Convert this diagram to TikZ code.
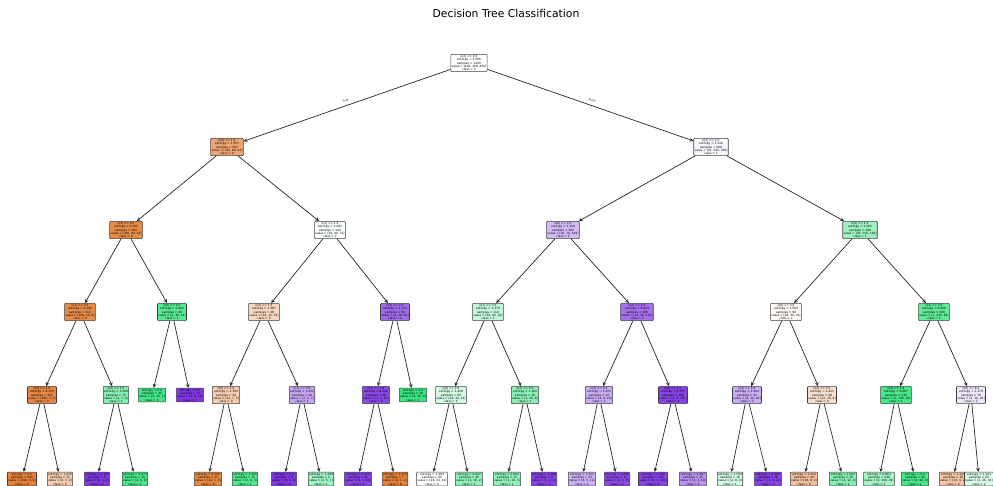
\documentclass[tikz,border=0pt]{standalone}
\usepackage{fontspec}
\setmainfont{DejaVu Sans}
\usepackage{tikz}
\usetikzlibrary{positioning}
\usetikzlibrary{shapes.geometric, arrows}
\definecolor{skO}{RGB}{229,129,57}
\definecolor{skG}{RGB}{57,229,129}
\definecolor{skP}{RGB}{129,57,229}
\tikzstyle{arrow} = [->,>=stealth,black!85,line width=0.7pt]
\tikzstyle{box} = [draw=black!75,rounded corners=0.8pt,align=center,inner sep=0.8pt,line width=0.6pt,font=\fontsize{2.9}{3.35}\selectfont]

\begin{document}
\begin{tikzpicture}[x=1pt,y=-1pt]
\useasboundingbox (0,0) rectangle (993,486);

%Title
\node (title) at (506,13) {\fontsize{10.8}{13}\selectfont Decision Tree Classification};

%Root and level 1
\node[box,fill=white] (n0) at (469,63) {x[2] <= 0.5\\entropy = 1.585\\samples = 1200\\value = [400, 400, 400]\\class = 0};
\node[box,fill=skO!72] (n1a) at (227,147) {x[0] <= 1.5\\entropy = 1.357\\samples = 502\\value = [330, 80, 92]\\class = 0};
\node[box,fill=skP!4] (n1b) at (711,147) {x[1] <= 2.5\\entropy = 1.349\\samples = 698\\value = [70, 320, 308]\\class = 1};

%Level 2
\node[box,fill=skO!92] (n2a) at (126,230) {x[3] <= 0.5\\entropy = 0.783\\samples = 360\\value = [300, 40, 20]\\class = 0};
\node[box,fill=skG!3] (n2b) at (330,230) {x[1] <= 1.5\\entropy = 1.491\\samples = 142\\value = [30, 40, 72]\\class = 2};
\node[box,fill=skP!35] (n2c) at (563,230) {x[0] <= 2.5\\entropy = 1.330\\samples = 300\\value = [40, 70, 190]\\class = 2};
\node[box,fill=skG!50] (n2d) at (860,230) {x[3] <= 1.5\\entropy = 1.265\\samples = 398\\value = [30, 250, 118]\\class = 1};

%Level 3
\node[box,fill=skO!92] (n3a) at (80,312) {x[1] <= 0.5\\entropy = 0.390\\samples = 316\\value = [300, 10, 6]\\class = 0};
\node[box,fill=skG!85] (n3b) at (172,312) {x[0] <= 0.5\\entropy = 0.902\\samples = 44\\value = [0, 30, 14]\\class = 1};
\node[box,fill=skO!32] (n3c) at (264,312) {x[2] <= 1.5\\entropy = 1.387\\samples = 48\\value = [26, 12, 10]\\class = 0};
\node[box,fill=skP!75] (n3d) at (395,312) {x[3] <= 2.5\\entropy = 1.174\\samples = 94\\value = [4, 28, 62]\\class = 2};
\node[box,fill=skG!30] (n3e) at (488,312) {x[1] <= 3.5\\entropy = 1.379\\samples = 110\\value = [30, 60, 20]\\class = 1};
\node[box,fill=skP!72] (n3f) at (637,312) {x[2] <= 2.5\\entropy = 0.623\\samples = 190\\value = [10, 10, 170]\\class = 2};
\node[box,fill=skO!4] (n3g) at (786,312) {x[0] <= 3.5\\entropy = 1.583\\samples = 90\\value = [28, 30, 32]\\class = 2};
\node[box,fill=skG!80] (n3h) at (934,312) {x[2] <= 3.5\\entropy = 0.896\\samples = 308\\value = [2, 220, 86]\\class = 1};

%Level 4
\node[box,fill=skO!95] (n4a) at (42,395) {x[3] <= 1.5\\entropy = 0.135\\samples = 301\\value = [296, 3, 2]\\class = 0};
\node[box,fill=skG!60] (n4b) at (116,395) {x[2] <= 1.5\\entropy = 1.566\\samples = 15\\value = [4, 7, 4]\\class = 1};
\node[box,fill=skG!95] (n4c) at (152,395) {entropy = 0.0\\samples = 30\\value = [0, 30, 0]\\class = 1};
\node[box,fill=skP] (n4d) at (190,395) {entropy = 0.0\\samples = 14\\value = [0, 0, 14]\\class = 2};
\node[box,fill=skO!40] (n4e) at (226,395) {x[0] <= 2.5\\entropy = 1.159\\samples = 34\\value = [24, 7, 3]\\class = 0};
\node[box,fill=skP!45] (n4f) at (302,395) {x[3] <= 3.5\\entropy = 1.435\\samples = 14\\value = [2, 5, 7]\\class = 2};
\node[box,fill=skP!92] (n4g) at (376,395) {x[1] <= 4.5\\entropy = 0.540\\samples = 68\\value = [4, 2, 62]\\class = 2};
\node[box,fill=skG] (n4h) at (413,395) {entropy = 0.0\\samples = 26\\value = [0, 26, 0]\\class = 1};
\node[box,fill=skG!22] (n4i) at (451,395) {x[0] <= 4.5\\entropy = 1.428\\samples = 80\\value = [28, 40, 12]\\class = 1};
\node[box,fill=skG!58] (n4j) at (525,395) {x[2] <= 4.5\\entropy = 1.160\\samples = 30\\value = [2, 20, 8]\\class = 1};
\node[box,fill=skP!42] (n4k) at (599,395) {x[3] <= 4.5\\entropy = 1.433\\samples = 34\\value = [8, 6, 20]\\class = 2};
\node[box,fill=skP!95] (n4l) at (673,395) {x[0] <= 5.5\\entropy = 0.255\\samples = 156\\value = [2, 4, 150]\\class = 2};
\node[box,fill=skP!42] (n4m) at (747,395) {x[1] <= 5.5\\entropy = 1.404\\samples = 42\\value = [6, 10, 26]\\class = 2};
\node[box,fill=skO!25] (n4n) at (822,395) {x[2] <= 5.5\\entropy = 1.421\\samples = 48\\value = [22, 20, 6]\\class = 0};
\node[box,fill=skG!92] (n4o) at (896,395) {x[3] <= 5.5\\entropy = 0.667\\samples = 230\\value = [0, 190, 40]\\class = 1};
\node[box,fill=skP!12] (n4p) at (971,395) {x[0] <= 6.5\\entropy = 1.179\\samples = 78\\value = [2, 30, 46]\\class = 2};

%Level 5 (leaves)
\node[box,fill=skO] (n5a) at (22,479) {entropy = 0.0\\samples = 290\\value = [290, 0, 0]\\class = 0};
\node[box,fill=skO!40] (n5b) at (60,479) {entropy = 1.435\\samples = 11\\value = [6, 3, 2]\\class = 0};
\node[box,fill=skP] (n5c) at (97,479) {entropy = 0.722\\samples = 5\\value = [0, 1, 4]\\class = 2};
\node[box,fill=skG!92] (n5d) at (135,479) {entropy = 0.971\\samples = 10\\value = [4, 6, 0]\\class = 1};
\node[box,fill=skO!95] (n5e) at (208,479) {entropy = 0.258\\samples = 23\\value = [22, 1, 0]\\class = 0};
\node[box,fill=skG!88] (n5f) at (245,479) {entropy = 1.495\\samples = 11\\value = [2, 6, 3]\\class = 1};
\node[box,fill=skP] (n5g) at (284,479) {entropy = 0.0\\samples = 6\\value = [0, 0, 6]\\class = 2};
\node[box,fill=skG!48] (n5h) at (321,479) {entropy = 1.299\\samples = 8\\value = [2, 5, 1]\\class = 1};
\node[box,fill=skP!95] (n5i) at (358,479) {entropy = 0.122\\samples = 61\\value = [0, 1, 60]\\class = 2};
\node[box,fill=skO] (n5j) at (395,479) {entropy = 1.379\\samples = 7\\value = [4, 1, 2]\\class = 0};
\node[box,fill=white] (n5k) at (432,479) {entropy = 1.493\\samples = 60\\value = [26, 24, 10]\\class = 0};
\node[box,fill=skG!55] (n5l) at (469,479) {entropy = 0.922\\samples = 20\\value = [2, 16, 2]\\class = 1};
\node[box,fill=skG!55] (n5m) at (507,479) {entropy = 0.684\\samples = 22\\value = [1, 18, 3]\\class = 1};
\node[box,fill=skP!95] (n5n) at (544,479) {entropy = 1.299\\samples = 8\\value = [1, 2, 5]\\class = 2};
\node[box,fill=skP!40] (n5o) at (582,479) {entropy = 1.522\\samples = 23\\value = [6, 5, 12]\\class = 2};
\node[box,fill=skP!92] (n5p) at (617,479) {entropy = 1.096\\samples = 11\\value = [2, 1, 8]\\class = 2};
\node[box,fill=skP!95] (n5q) at (653,479) {entropy = 0.066\\samples = 141\\value = [0, 1, 140]\\class = 2};
\node[box,fill=skP!55] (n5r) at (693,479) {entropy = 1.287\\samples = 15\\value = [2, 3, 10]\\class = 2};
\node[box,fill=skG!22] (n5s) at (730,479) {entropy = 1.500\\samples = 16\\value = [4, 8, 4]\\class = 1};
\node[box,fill=skP!95] (n5t) at (768,479) {entropy = 0.868\\samples = 26\\value = [2, 2, 22]\\class = 2};
\node[box,fill=skO!50] (n5u) at (804,479) {entropy = 1.219\\samples = 28\\value = [18, 8, 2]\\class = 0};
\node[box,fill=skG!60] (n5v) at (843,479) {entropy = 1.522\\samples = 20\\value = [4, 12, 4]\\class = 1};
\node[box,fill=skG!45] (n5w) at (879,479) {entropy = 0.863\\samples = 140\\value = [0, 100, 40]\\class = 1};
\node[box,fill=skG!92] (n5x) at (915,479) {entropy = 0.0\\samples = 90\\value = [0, 90, 0]\\class = 1};
\node[box,fill=skO!45] (n5y) at (953,479) {entropy = 1.149\\samples = 16\\value = [10, 4, 2]\\class = 0};
\node[box,fill=skG!18] (n5z) at (979,479) {entropy = 1.143\\samples = 62\\value = [2, 26, 34]\\class = 2};

%Lines
\draw[arrow] (n0) -- node[sloped,above=0.3pt,font=\fontsize{2.9}{3.35}\selectfont] {True} (n1a);
\draw[arrow] (n0) -- node[sloped,above=0.3pt,font=\fontsize{2.9}{3.35}\selectfont] {False} (n1b);
\foreach \p/\c in {n1a/n2a,n1a/n2b,n1b/n2c,n1b/n2d,
  n2a/n3a,n2a/n3b,n2b/n3c,n2b/n3d,n2c/n3e,n2c/n3f,n2d/n3g,n2d/n3h,
  n3a/n4a,n3a/n4b,n3b/n4c,n3b/n4d,n3c/n4e,n3c/n4f,n3d/n4g,n3d/n4h,
  n3e/n4i,n3e/n4j,n3f/n4k,n3f/n4l,n3g/n4m,n3g/n4n,n3h/n4o,n3h/n4p,
  n4a/n5a,n4a/n5b,n4b/n5c,n4b/n5d,n4e/n5e,n4e/n5f,n4f/n5g,n4f/n5h,
  n4g/n5i,n4g/n5j,n4i/n5k,n4i/n5l,n4j/n5m,n4j/n5n,n4k/n5o,n4k/n5p,
  n4l/n5q,n4l/n5r,n4m/n5s,n4m/n5t,n4n/n5u,n4n/n5v,n4o/n5w,n4o/n5x,
  n4p/n5y,n4p/n5z}
  \draw[arrow] (\p) -- (\c);
\end{tikzpicture}
\end{document}
